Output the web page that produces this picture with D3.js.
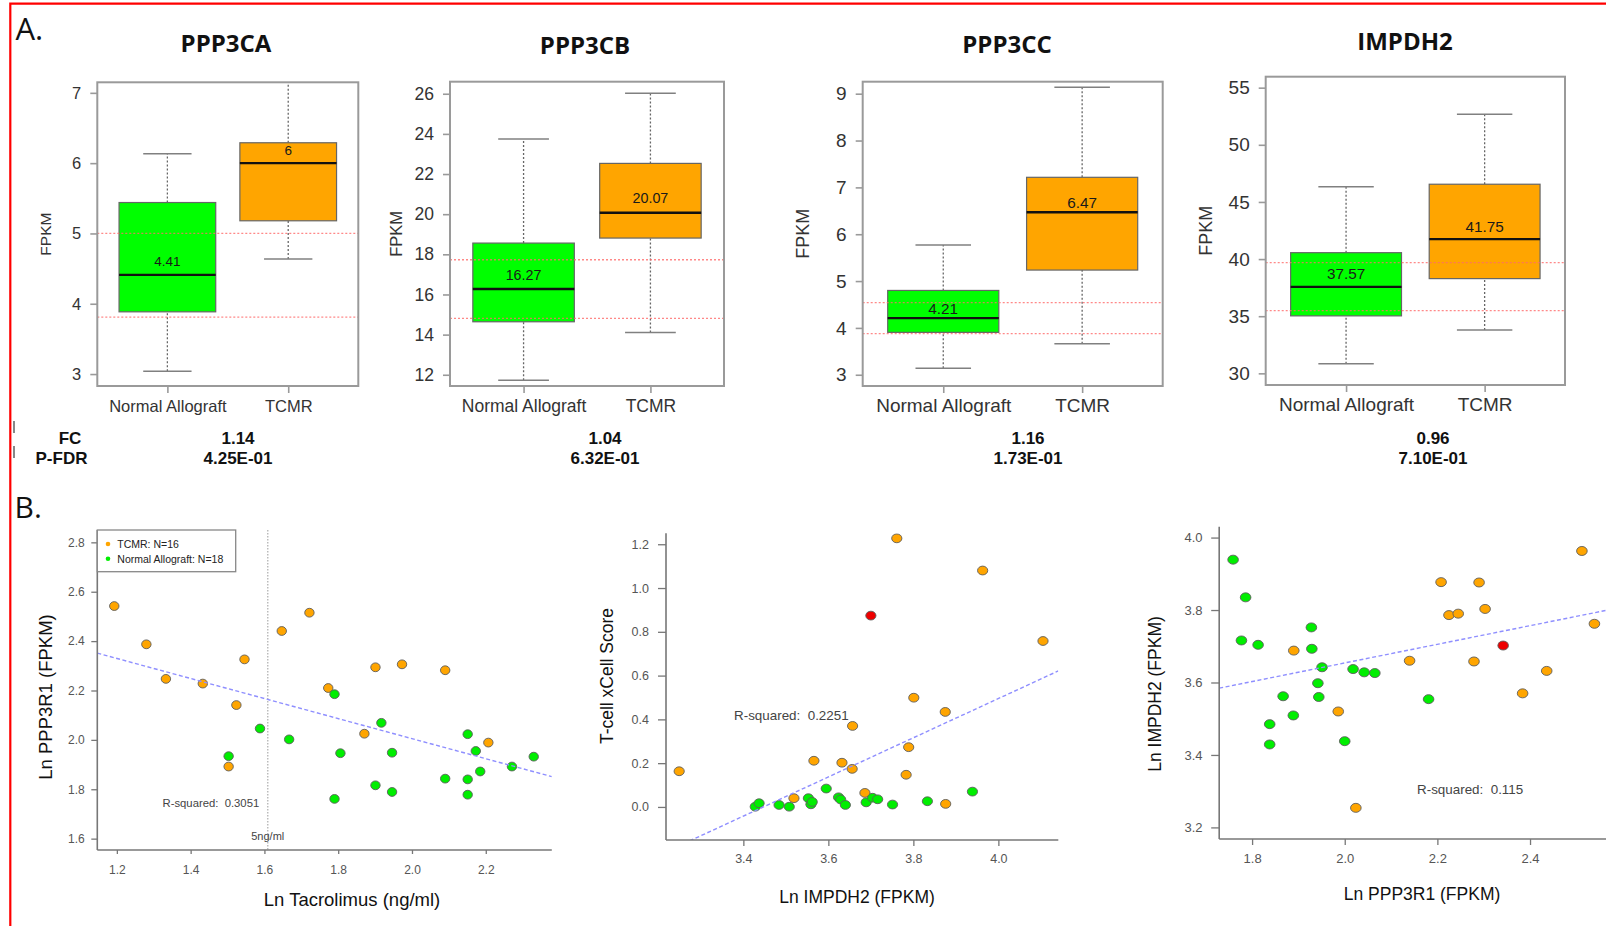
<!DOCTYPE html>
<html>
<head>
<meta charset="utf-8">
<script src="https://cdn.jsdelivr.net/npm/d3@7/dist/d3.min.js"></script>
<style>
  html, body { margin: 0; padding: 0; background: #fff; }
  svg { display: block; }
</style>
</head>
<body>
<svg id="fig" width="1606" height="926"></svg>
<script>
// ---------- panel A: expression boxplots ----------
const genes = ["PPP3CA", "PPP3CB", "PPP3CC", "IMPDH2"];
const groups = ["Normal Allograft", "TCMR"];
// [low whisker, q1, median, q3, high whisker] for Normal Allograft, TCMR
const ppp3caBox = [[3.04, 3.885, 4.41, 5.44, 6.135], [4.635, 5.18, 6, 6.29, 7.4]];
const ppp3cbBox = [[11.73, 14.64, 16.27, 18.56, 23.74], [14.11, 18.81, 20.07, 22.53, 26.03]];
const ppp3ccBox = [[3.14, 3.905, 4.21, 4.8, 5.77], [3.66, 5.235, 6.47, 7.215, 9.135]];
const impdh2Box = [[30.85, 35.03, 37.57, 40.56, 46.34], [33.8, 38.29, 41.75, 46.55, 52.67]];
const refLines = [[3.81, 5.0], [14.81, 17.73], [3.88, 4.54], [35.49, 39.69]];
const yTicksA = [[3, 4, 5, 6, 7], [12, 14, 16, 18, 20, 22, 24, 26], [3, 4, 5, 6, 7, 8, 9], [30, 35, 40, 45, 50, 55]];
const foldChange = ["1.14", "1.04", "1.16", "0.96"];
const pFdr = ["4.25E-01", "6.32E-01", "1.73E-01", "7.10E-01"];

// ---------- panel B: scatter plots ----------
// B1: Ln Tacrolimus vs Ln PPP3R1
const tacTcmrX = [1.193, 1.280, 1.333, 1.433, 1.546, 1.524, 1.503, 1.647, 1.722, 1.773, 1.871, 1.901, 1.973, 2.090, 2.207];
const tacTcmrY = [2.542, 2.387, 2.247, 2.228, 2.326, 2.141, 1.892, 2.441, 2.515, 2.210, 2.025, 2.294, 2.306, 2.282, 1.989];
const tacNormX = [1.790, 1.588, 1.667, 1.503, 1.806, 1.917, 1.946, 1.901, 1.946, 1.790, 2.151, 2.173, 2.185, 2.090, 2.151, 2.151, 2.271, 2.330];
const tacNormY = [2.185, 2.046, 2.002, 1.934, 1.946, 2.069, 1.948, 1.816, 1.789, 1.761, 2.023, 1.955, 1.872, 1.843, 1.840, 1.778, 1.892, 1.932];
// B2: Ln IMPDH2 vs T-cell xCell score
const impTcmrX = [3.761, 3.963, 4.105, 3.801, 3.875, 3.657, 3.789, 3.566, 3.632, 3.656, 3.783, 3.249, 3.519, 3.686, 3.876];
const impTcmrY = [1.227, 1.080, 0.758, 0.499, 0.434, 0.370, 0.273, 0.211, 0.202, 0.174, 0.147, 0.163, 0.040, 0.064, 0.014];
const impNormX = [3.428, 3.437, 3.484, 3.508, 3.553, 3.559, 3.562, 3.595, 3.624, 3.629, 3.640, 3.689, 3.704, 3.716, 3.751, 3.833, 3.939];
const impNormY = [0.001, 0.017, 0.009, 0.001, 0.040, 0.012, 0.023, 0.084, 0.044, 0.034, 0.009, 0.021, 0.042, 0.035, 0.011, 0.026, 0.070];
const impFlag = [[3.700, 0.874]];
// B3: Ln PPP3R1 vs Ln IMPDH2
const pppTcmrX = [1.890, 1.986, 2.024, 2.140, 2.208, 2.225, 2.245, 2.290, 2.303, 2.279, 2.384, 2.436, 2.512, 2.539];
const pppTcmrY = [3.688, 3.520, 3.254, 3.660, 3.877, 3.786, 3.790, 3.876, 3.803, 3.658, 3.570, 3.632, 3.963, 3.762];
const pppNormX = [1.759, 1.786, 1.777, 1.813, 1.928, 1.929, 1.951, 1.942, 1.944, 1.867, 1.889, 1.838, 1.838, 2.000, 2.018, 2.042, 2.065, 2.181];
const pppNormY = [3.939, 3.835, 3.716, 3.704, 3.752, 3.693, 3.642, 3.598, 3.560, 3.562, 3.509, 3.485, 3.429, 3.438, 3.637, 3.628, 3.626, 3.554];
const pppFlag = [[2.342, 3.702]];

// fitted lines [intercept, slope] and r-squared text
const fits = [[2.817, -0.406], [-3.085, 0.895], [3.140, 0.257]];
const rSquared = ["0.3051", "0.2251", "0.115"];
const xTicksB = [[1.2, 1.4, 1.6, 1.8, 2.0, 2.2], [3.4, 3.6, 3.8, 4.0], [1.8, 2.0, 2.2, 2.4]];
const yTicksB = [[1.6, 1.8, 2.0, 2.2, 2.4, 2.6, 2.8], [0.0, 0.2, 0.4, 0.6, 0.8, 1.0, 1.2], [3.2, 3.4, 3.6, 3.8, 4.0]];
const xTitlesB = ["Ln Tacrolimus (ng/ml)", "Ln IMPDH2 (FPKM)", "Ln PPP3R1 (FPKM)"];
const yTitlesB = ["Ln PPP3R1 (FPKM)", "T-cell xCell Score", "Ln IMPDH2 (FPKM)"];
const legendLabels = ["TCMR: N=16", "Normal Allograft: N=18"];
const tacCutoff = 1.609; // ln(5 ng/ml)

const boxStats = [ppp3caBox, ppp3cbBox, ppp3ccBox, impdh2Box];
const scatterSets = [
  { tcmr: [tacTcmrX, tacTcmrY], norm: [tacNormX, tacNormY], flag: [] },
  { tcmr: [impTcmrX, impTcmrY], norm: [impNormX, impNormY], flag: impFlag },
  { tcmr: [pppTcmrX, pppTcmrY], norm: [pppNormX, pppNormY], flag: pppFlag }
];

const ORANGE = "#ffa500", GREEN = "#00ee00", RED = "#ee0000";
const SANS = "'Liberation Sans', Arial, sans-serif";
const HEAD = "'Open Sans', 'Liberation Sans', sans-serif";

// layout of each box panel (pixels)
const layoutA = [
  { left: 97.3, right: 358.3, top: 82.3, bottom: 386, yDomain: [2.83, 7.15], titleX: 226, titleY: 52, ylabX: 46, valueX: 238, font: 16.5, medFont: 13.5, medOff: 8.5 },
  { left: 450, right: 724, top: 81.7, bottom: 386, yDomain: [11.44, 26.6], titleX: 585, titleY: 54, ylabX: 396, valueX: 605, font: 17.5, medFont: 14.3, medOff: 9.5 },
  { left: 862.7, right: 1162.7, top: 81.7, bottom: 386, yDomain: [2.76, 9.256], titleX: 1007, titleY: 53, ylabX: 803, valueX: 1028, font: 19, medFont: 15.3, medOff: 4 },
  { left: 1265.7, right: 1565, top: 76.7, bottom: 385, yDomain: [28.98, 55.96], titleX: 1405, titleY: 49.5, ylabX: 1206, valueX: 1433, font: 19, medFont: 15.3, medOff: 7.5 }
];

// layout of each scatter panel (pixels)
const layoutB = [
  { left: 97.3, right: 551.8, top: 530, bottom: 850, xDomain: [1.147, 2.379], yDomain: [1.554, 2.85],
    tick: 6, yPad: 6.5, xPad: 11.4, tickFont: 12, rx: 4.7, ry: 4.4, ylabX: 46, ylabY: 697, xlabX: 352, xlabY: 906, rX: 162.5, rY: 806.5, rFont: 11.3 },
  { left: 666, right: 1058.3, top: 533.3, bottom: 840, xDomain: [3.218, 4.141], yDomain: [-0.151, 1.25],
    tick: 8, yPad: 9, xPad: 8.5, tickFont: 12.5, rx: 5.1, ry: 4.4, ylabX: 606.5, ylabY: 676, xlabX: 857, xlabY: 903, rX: 734, rY: 720, rFont: 13.4 },
  { left: 1219.2, right: 1606, top: 526.7, bottom: 839, xDomain: [1.729, 2.564], yDomain: [3.168, 4.03],
    tick: 8, yPad: 8.7, xPad: 8.6, tickFont: 13, rx: 5.3, ry: 4.5, ylabX: 1155, ylabY: 694, xlabX: 1422, xlabY: 900, rX: 1417, rY: 793.5, rFont: 13.4 }
];

const svg = d3.select("#fig");

// red outline of the figure
svg.append("path")
  .attr("d", "M10.3,926 L10.3,3.6 L1606,3.6")
  .attr("fill", "none")
  .attr("stroke", "#ff0000")
  .attr("stroke-width", 2.2);

svg.append("text").attr("x", 15.5).attr("y", 39.5)
  .attr("font-family", HEAD).attr("font-size", 31).attr("fill", "#111").text("A.");
svg.append("text").attr("x", 14.5).attr("y", 518)
  .attr("font-family", HEAD).attr("font-size", 30).attr("fill", "#111").text("B.");

function drawBoxPanel(i) {
  const L = layoutA[i];
  const stats = boxStats[i];
  const x = d3.scaleLinear().domain([0.42, 2.58]).range([L.left, L.right]);
  const y = d3.scaleLinear().domain(L.yDomain).range([L.bottom, L.top]);
  const boxW = x(1.4) - x(0.6);
  const g = svg.append("g");

  g.append("clipPath").attr("id", "clipA" + i)
    .append("rect")
    .attr("x", L.left).attr("y", L.top)
    .attr("width", L.right - L.left).attr("height", L.bottom - L.top);
  const plot = g.append("g").attr("clip-path", `url(#clipA${i})`);

  stats.forEach((s, k) => {
    const cx = x(k + 1);
    // dotted whiskers
    [[s[0], s[1]], [s[3], s[4]]].forEach(w => {
      plot.append("line")
        .attr("x1", cx).attr("x2", cx).attr("y1", y(w[0])).attr("y2", y(w[1]))
        .attr("stroke", "#666").attr("stroke-width", 1.3).attr("stroke-dasharray", "2,2");
    });
    // whisker caps
    [s[0], s[4]].forEach(v => {
      plot.append("line")
        .attr("x1", cx - boxW / 4).attr("x2", cx + boxW / 4)
        .attr("y1", y(v)).attr("y2", y(v))
        .attr("stroke", "#808080").attr("stroke-width", 1.5);
    });
    plot.append("rect")
      .attr("x", cx - boxW / 2).attr("y", y(s[3]))
      .attr("width", boxW).attr("height", y(s[1]) - y(s[3]))
      .attr("fill", k === 0 ? "#00ff00" : ORANGE)
      .attr("stroke", "#666").attr("stroke-width", 1.2);
    plot.append("line")
      .attr("x1", cx - boxW / 2).attr("x2", cx + boxW / 2)
      .attr("y1", y(s[2])).attr("y2", y(s[2]))
      .attr("stroke", "#111").attr("stroke-width", 2.4);
    g.append("text")
      .attr("x", cx).attr("y", y(s[2]) - L.medOff)
      .attr("text-anchor", "middle")
      .attr("font-family", SANS).attr("font-size", L.medFont).attr("fill", "#1a1a1a")
      .text(String(s[2]));
  });

  // red reference lines
  refLines[i].forEach(v => {
    plot.append("line")
      .attr("x1", L.left).attr("x2", L.right).attr("y1", y(v)).attr("y2", y(v))
      .attr("stroke", "#ff6a6a").attr("stroke-opacity", 0.8)
      .attr("stroke-width", 1.3).attr("stroke-dasharray", "2,2");
  });

  // frame
  g.append("rect")
    .attr("x", L.left).attr("y", L.top)
    .attr("width", L.right - L.left).attr("height", L.bottom - L.top)
    .attr("fill", "none").attr("stroke", "#9a9a9a").attr("stroke-width", 2);

  const ya = g.append("g")
    .attr("transform", `translate(${L.left},0)`)
    .call(d3.axisLeft(y).tickValues(yTicksA[i]).tickSize(7).tickPadding(9).tickFormat(d3.format("d")));
  ya.attr("font-family", null).attr("font-size", null);
  ya.select(".domain").remove();
  ya.selectAll("line").attr("stroke", "#9a9a9a").attr("stroke-width", 1.6);
  ya.selectAll("text").attr("font-family", SANS).attr("font-size", L.font).attr("fill", "#333");

  const xa = g.append("g")
    .attr("transform", `translate(0,${L.bottom})`)
    .call(d3.axisBottom(x).tickValues([1, 2]).tickSize(7).tickFormat(d => groups[d - 1]));
  xa.attr("font-family", null).attr("font-size", null);
  xa.select(".domain").remove();
  xa.selectAll("line").attr("stroke", "#9a9a9a").attr("stroke-width", 1.6);
  xa.selectAll("text").attr("y", 26).attr("dy", null)
    .attr("font-family", SANS).attr("font-size", L.font).attr("fill", "#333");

  // titles and labels
  g.append("text")
    .attr("x", L.titleX).attr("y", L.titleY).attr("text-anchor", "middle")
    .attr("font-family", HEAD).attr("font-weight", 700).attr("font-size", 24).attr("fill", "#111")
    .text(genes[i]);
  g.append("text")
    .attr("transform", `translate(${L.ylabX},${(L.top + L.bottom) / 2}) rotate(-90)`)
    .attr("text-anchor", "middle").attr("dy", "0.35em")
    .attr("font-family", SANS).attr("font-size", L.font - 1).attr("fill", "#333")
    .text("FPKM");

  g.append("text")
    .attr("x", L.valueX).attr("y", 444).attr("text-anchor", "middle")
    .attr("font-family", SANS).attr("font-weight", 700).attr("font-size", 17).attr("fill", "#111")
    .text(foldChange[i]);
  g.append("text")
    .attr("x", L.valueX).attr("y", 464).attr("text-anchor", "middle")
    .attr("font-family", SANS).attr("font-weight", 700).attr("font-size", 17).attr("fill", "#111")
    .text(pFdr[i]);
}

genes.forEach((d, i) => drawBoxPanel(i));

// FC / P-FDR row labels
svg.append("text").attr("x", 70).attr("y", 444).attr("text-anchor", "middle")
  .attr("font-family", SANS).attr("font-weight", 700).attr("font-size", 17).attr("fill", "#111").text("FC");
svg.append("text").attr("x", 61.5).attr("y", 464).attr("text-anchor", "middle")
  .attr("font-family", SANS).attr("font-weight", 700).attr("font-size", 17).attr("fill", "#111").text("P-FDR");
[[421, 433], [446, 458]].forEach(b => {
  svg.append("line").attr("x1", 14).attr("x2", 14).attr("y1", b[0]).attr("y2", b[1])
    .attr("stroke", "#555").attr("stroke-width", 1.4);
});

function drawScatter(j) {
  const L = layoutB[j];
  const S = scatterSets[j];
  const x = d3.scaleLinear().domain(L.xDomain).range([L.left, L.right]);
  const y = d3.scaleLinear().domain(L.yDomain).range([L.bottom, L.top]);
  const g = svg.append("g");

  g.append("clipPath").attr("id", "clipB" + j)
    .append("rect")
    .attr("x", L.left).attr("y", L.top)
    .attr("width", L.right - L.left).attr("height", L.bottom - L.top);
  const plot = g.append("g").attr("clip-path", `url(#clipB${j})`);

  if (j === 0) {
    plot.append("line")
      .attr("x1", x(tacCutoff)).attr("x2", x(tacCutoff))
      .attr("y1", L.top).attr("y2", L.bottom)
      .attr("stroke", "#bbb").attr("stroke-width", 1.5).attr("stroke-dasharray", "1.5,1.5");
    g.append("text")
      .attr("x", x(tacCutoff)).attr("y", 840).attr("text-anchor", "middle")
      .attr("font-family", SANS).attr("font-size", 11).attr("fill", "#444")
      .text("5ng/ml");
  }

  const dots = [];
  S.tcmr[0].forEach((v, k) => dots.push({ x: v, y: S.tcmr[1][k], c: ORANGE }));
  S.norm[0].forEach((v, k) => dots.push({ x: v, y: S.norm[1][k], c: GREEN }));
  S.flag.forEach(p => dots.push({ x: p[0], y: p[1], c: RED }));

  plot.selectAll("ellipse.pt")
    .data(dots)
    .enter()
    .append("ellipse")
    .attr("class", "pt")
    .attr("cx", d => x(d.x)).attr("cy", d => y(d.y))
    .attr("rx", L.rx).attr("ry", L.ry)
    .attr("fill", d => d.c)
    .attr("stroke", "#5e5e5e").attr("stroke-width", 0.9);

  // fitted line, clipped to the plot area
  const f = fits[j];
  const line = d3.line().x(d => x(d)).y(d => y(f[0] + f[1] * d));
  plot.append("path")
    .attr("d", line(L.xDomain))
    .attr("fill", "none")
    .attr("stroke", "#8f8fff").attr("stroke-width", 1.4).attr("stroke-dasharray", "4,2.5");

  g.append("text")
    .attr("x", L.rX).attr("y", L.rY)
    .attr("font-family", SANS).attr("font-size", L.rFont).attr("fill", "#444")
    .attr("xml:space", "preserve")
    .text("R-squared:  " + rSquared[j]);

  // axes (left and bottom only)
  const ya = g.append("g")
    .attr("transform", `translate(${L.left},0)`)
    .call(d3.axisLeft(y).tickValues(yTicksB[j]).tickSize(L.tick).tickPadding(L.yPad).tickFormat(d3.format(".1f")));
  ya.attr("font-family", null).attr("font-size", null);
  ya.select(".domain").attr("d", `M0,${L.top}V${L.bottom}`).attr("stroke", "#777").attr("stroke-width", 1.6);
  ya.selectAll(".tick line").attr("stroke", "#777").attr("stroke-width", 1.3);
  ya.selectAll("text").attr("font-family", SANS).attr("font-size", L.tickFont).attr("fill", "#555");

  const xa = g.append("g")
    .attr("transform", `translate(0,${L.bottom})`)
    .call(d3.axisBottom(x).tickValues(xTicksB[j]).tickSize(L.tick - 2).tickPadding(L.xPad).tickFormat(d3.format(".1f")));
  xa.attr("font-family", null).attr("font-size", null);
  xa.select(".domain").attr("d", `M${L.left},0H${L.right}`).attr("stroke", "#777").attr("stroke-width", 1.6);
  xa.selectAll(".tick line").attr("stroke", "#777").attr("stroke-width", 1.3);
  xa.selectAll("text").attr("font-family", SANS).attr("font-size", L.tickFont).attr("fill", "#555");

  g.append("text")
    .attr("x", L.xlabX).attr("y", L.xlabY).attr("text-anchor", "middle")
    .attr("font-family", SANS).attr("font-size", j === 0 ? 18.5 : 17.5).attr("fill", "#111")
    .text(xTitlesB[j]);
  g.append("text")
    .attr("transform", `translate(${L.ylabX},${L.ylabY}) rotate(-90)`)
    .attr("text-anchor", "middle").attr("dy", "0.35em")
    .attr("font-family", SANS).attr("font-size", j === 0 ? 18.5 : 17.5).attr("fill", "#111")
    .text(yTitlesB[j]);

  if (j === 0) {
    const lg = g.append("g");
    lg.append("rect")
      .attr("x", 97.3).attr("y", 530).attr("width", 138.4).attr("height", 41.7)
      .attr("fill", "#fff").attr("stroke", "#888").attr("stroke-width", 1.3);
    [ORANGE, GREEN].forEach((c, k) => {
      lg.append("circle").attr("cx", 108).attr("cy", 544 + k * 14.7).attr("r", 2.3).attr("fill", c);
      lg.append("text")
        .attr("x", 117.3).attr("y", 548 + k * 14.7)
        .attr("font-family", SANS).attr("font-size", 10.5).attr("fill", "#222")
        .text(legendLabels[k]);
    });
  }
}

scatterSets.forEach((d, j) => drawScatter(j));
</script>
</body>
</html>
